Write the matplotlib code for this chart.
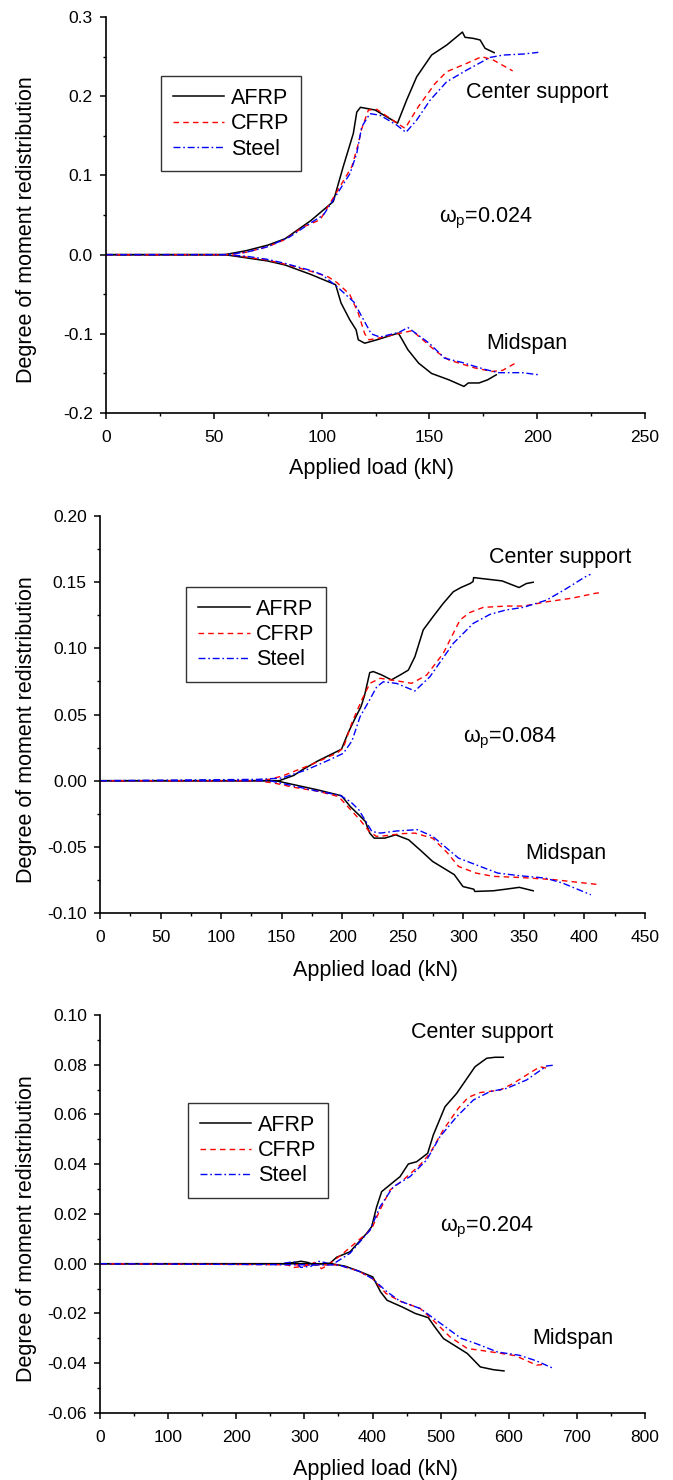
import matplotlib
matplotlib.use("Agg")
import matplotlib.pyplot as plt
from matplotlib.ticker import MultipleLocator, FormatStrFormatter

plt.rcParams['font.family'] = ['Liberation Sans', 'DejaVu Sans']
plt.rcParams['mathtext.fontset'] = 'custom'
plt.rcParams['mathtext.rm'] = 'Liberation Sans'
plt.rcParams['mathtext.it'] = 'Liberation Sans'

# ---------------- data ----------------
series_labels = ["AFRP", "CFRP", "Steel"]

# Panel 1 (omega_p = 0.024)
p1_afrp_c_x = [0, 55, 65, 75, 83, 95, 105.4, 110, 114.7, 116.3, 118, 124.8, 135.2, 139.4, 144.1, 151, 158, 165.3, 166.5, 170.4, 173.5, 175.8, 180]
p1_afrp_c_y = [0, 0, 0.005, 0.012, 0.02, 0.043, 0.067, 0.111, 0.153, 0.18, 0.186, 0.1826, 0.166, 0.195, 0.2246, 0.252, 0.2646, 0.281, 0.2744, 0.273, 0.271, 0.2605, 0.255]
p1_cfrp_c_x = [0, 57, 65, 75, 83, 91.5, 99.3, 103.9, 108.5, 114, 117, 118.6, 121.7, 125.6, 135, 138.7, 144.9, 152.6, 158, 167.3, 174.3, 179.6, 188.6]
p1_cfrp_c_y = [0, 0, 0.003, 0.01, 0.019, 0.035, 0.044, 0.065, 0.086, 0.111, 0.14, 0.159, 0.1826, 0.1834, 0.166, 0.1594, 0.187, 0.216, 0.231, 0.2415, 0.25, 0.2457, 0.232]
p1_steel_c_x = [0, 55, 65, 75, 85.3, 94.6, 100.8, 105.4, 113.2, 116.3, 118.6, 122.4, 127.1, 134.8, 139.1, 144.1, 150.3, 158, 167.3, 178.1, 184.3, 193.6, 200.5]
p1_steel_c_y = [0, 0, 0.003, 0.01, 0.0226, 0.0395, 0.05, 0.069, 0.1026, 0.128, 0.1615, 0.178, 0.176, 0.1636, 0.1544, 0.17, 0.195, 0.2183, 0.233, 0.249, 0.252, 0.2533, 0.2554]
p1_afrp_m_x = [0, 55, 65, 75, 83, 95, 106.5, 109, 113, 116, 117, 120, 125.6, 135.6, 140, 145, 151, 159, 166, 168, 173, 177, 181]
p1_afrp_m_y = [0, 0, -0.004, -0.008, -0.013, -0.025, -0.038, -0.061, -0.082, -0.095, -0.1075, -0.1118, -0.1075, -0.099, -0.12, -0.137, -0.15, -0.158, -0.1664, -0.162, -0.162, -0.158, -0.1517]
p1_cfrp_m_x = [0, 57, 65, 75, 83, 95, 103, 107, 113, 117, 120, 122, 127, 135, 142, 148, 153, 159, 165, 171, 179, 184, 189.8]
p1_cfrp_m_y = [0, 0, -0.003, -0.007, -0.012, -0.021, -0.028, -0.035, -0.05, -0.074, -0.1, -0.1075, -0.105, -0.1, -0.096, -0.11, -0.122, -0.133, -0.138, -0.143, -0.1475, -0.146, -0.137]
p1_steel_m_x = [0, 55, 65, 75, 83, 95, 100, 107, 115, 120, 123, 127, 136, 140, 150, 157, 165, 171, 176, 182, 186.8, 193, 200.8]
p1_steel_m_y = [0, 0, -0.002, -0.006, -0.011, -0.02, -0.025, -0.04, -0.06, -0.085, -0.1, -0.104, -0.098, -0.092, -0.112, -0.1307, -0.136, -0.141, -0.145, -0.149, -0.149, -0.149, -0.1517]

# Panel 2 (omega_p = 0.084)
p2_afrp_c_x = [0, 148, 160, 167, 180, 199.4, 204.8, 210, 215.5, 218.4, 222.7, 225.6, 232.4, 240.6, 248, 254.6, 260, 266.9, 275, 283.4, 291.7, 298, 305.5, 308, 308.5, 332, 346, 352, 357.7]
p2_afrp_c_y = [0, 0, 0.004, 0.0082, 0.015, 0.0238, 0.036, 0.046, 0.056, 0.0643, 0.0817, 0.0825, 0.08, 0.0762, 0.08, 0.0836, 0.0937, 0.114, 0.124, 0.134, 0.1428, 0.146, 0.149, 0.1505, 0.1535, 0.151, 0.146, 0.149, 0.15]
p2_cfrp_c_x = [0, 125, 140, 151, 174, 196, 201, 207.8, 216.1, 222.9, 231.2, 245, 257.3, 269.7, 283.4, 297.2, 305, 316.5, 335.8, 350, 368.8, 390, 408.7, 412]
p2_cfrp_c_y = [0, 0, 0.001, 0.0037, 0.012, 0.021, 0.025, 0.0434, 0.061, 0.0736, 0.0774, 0.0755, 0.0736, 0.0798, 0.0962, 0.1214, 0.127, 0.131, 0.132, 0.132, 0.1352, 0.138, 0.1416, 0.142]
p2_steel_c_x = [0, 130, 150, 170, 190, 200.9, 208, 214.7, 222, 228.5, 234, 245, 260, 272.4, 291.7, 308.2, 322, 335, 349.5, 368.8, 385.3, 400.5, 405]
p2_steel_c_y = [0, 0.001, 0.002, 0.008, 0.016, 0.0207, 0.03, 0.0483, 0.06, 0.071, 0.0748, 0.0735, 0.0678, 0.0786, 0.1038, 0.1189, 0.1257, 0.129, 0.131, 0.1365, 0.1453, 0.154, 0.156]
p2_afrp_m_x = [0, 145, 160, 180, 199.4, 206.6, 213.7, 219.1, 222.7, 226.3, 235.2, 244.2, 254.9, 265.7, 274.6, 292.5, 299.7, 308.6, 309.5, 324.7, 335, 346.2, 357.7]
p2_afrp_m_y = [0, 0, -0.003, -0.007, -0.0114, -0.0195, -0.0258, -0.0308, -0.0396, -0.0434, -0.0434, -0.0409, -0.0447, -0.0535, -0.061, -0.071, -0.08, -0.082, -0.0837, -0.0832, -0.082, -0.0806, -0.0832]
p2_cfrp_m_x = [0, 130, 145, 160, 180, 197, 205, 215, 222, 228, 231.6, 249.6, 260, 269, 274.6, 287, 296, 310.4, 324.7, 346.2, 374.9, 412.5]
p2_cfrp_m_y = [0, 0, -0.002, -0.005, -0.008, -0.012, -0.02, -0.03, -0.038, -0.042, -0.042, -0.04, -0.0396, -0.042, -0.0434, -0.0547, -0.0648, -0.0698, -0.0723, -0.0731, -0.0748, -0.0786]
p2_steel_m_x = [0, 140, 160, 180, 198, 207, 213.7, 224.5, 231.6, 245, 262, 274.6, 285, 296, 314, 328.3, 346.2, 367.7, 382, 405.3]
p2_steel_m_y = [0, 0, -0.004, -0.008, -0.011, -0.016, -0.022, -0.0384, -0.0396, -0.038, -0.037, -0.042, -0.05, -0.0585, -0.0648, -0.0698, -0.0718, -0.0736, -0.0774, -0.0862]

# Panel 3 (omega_p = 0.204)
p3_afrp_c_x = [0, 270, 285, 295, 305, 315, 325, 337.6, 347.4, 367, 391.4, 398.8, 406.1, 413.5, 428.2, 440.4, 452.6, 464.8, 481, 489.3, 506.4, 523.6, 550.5, 567.6, 580, 592]
p3_afrp_c_y = [0, 0, 0.0005, 0.001, 0.0005, -0.0005, 0, 0.0002, 0.0026, 0.0048, 0.0122, 0.0149, 0.0229, 0.029, 0.0323, 0.035, 0.0401, 0.041, 0.0444, 0.0518, 0.0631, 0.0685, 0.0792, 0.0826, 0.083, 0.083]
p3_cfrp_c_x = [0, 270, 285, 300, 315, 325, 335, 357, 391.4, 398.8, 411, 425.7, 445.2, 469.7, 484.4, 503.9, 526, 540.6, 557.8, 587.2, 606.7, 626.3, 645.9, 655.7]
p3_cfrp_c_y = [0, 0, -0.0015, -0.001, 0.0005, -0.002, -0.0005, 0.0042, 0.0122, 0.0141, 0.0216, 0.0296, 0.0337, 0.0397, 0.0444, 0.0538, 0.0625, 0.0669, 0.0688, 0.0698, 0.0725, 0.0759, 0.0792, 0.0786]
p3_steel_c_x = [0, 265, 285, 295, 310, 320, 330, 340, 367, 396.3, 411, 430.6, 455, 479.5, 499.1, 523.6, 548, 572.5, 597, 626.3, 655.7, 665]
p3_steel_c_y = [0, 0, 0.0008, -0.0015, -0.001, 0.001, 0.0005, -0.0005, 0.0042, 0.0135, 0.0229, 0.031, 0.035, 0.0417, 0.0511, 0.0591, 0.0658, 0.0692, 0.0705, 0.0739, 0.0795, 0.0798]
p3_afrp_m_x = [0, 340, 360, 380, 400.4, 411.8, 421.4, 443.7, 462.8, 481.9, 491.4, 504.2, 520, 539.2, 558.3, 577.3, 593]
p3_afrp_m_y = [0, 0, -0.001, -0.003, -0.0053, -0.0113, -0.0147, -0.0174, -0.02, -0.0217, -0.0254, -0.0301, -0.0328, -0.0361, -0.0415, -0.0426, -0.0431]
p3_cfrp_m_x = [0, 350, 380, 400, 420, 440, 470, 490, 513.7, 539.2, 558.3, 590, 610, 641, 653.8]
p3_cfrp_m_y = [0, -0.0005, -0.003, -0.006, -0.012, -0.015, -0.018, -0.023, -0.0294, -0.0341, -0.0348, -0.0361, -0.037, -0.0408, -0.0404]
p3_steel_m_x = [0, 350, 380, 400, 420, 440, 470, 490, 510, 530, 551.9, 583.7, 615.5, 640, 666.5]
p3_steel_m_y = [0, -0.0005, -0.003, -0.006, -0.011, -0.015, -0.018, -0.022, -0.026, -0.03, -0.0321, -0.0355, -0.0368, -0.039, -0.0422]

omega_labels = ["0.024", "0.084", "0.204"]

# ---------------- figure ----------------
fig = plt.figure(figsize=(6.73, 14.80), dpi=100)

styles = [dict(color='black', lw=1.1, ls='-'),
          dict(color='red', lw=1.0, ls=(0, (4, 3))),
          dict(color='blue', lw=1.0, ls=(0, (5, 2, 1.2, 2)))]

panels = [
    dict(rect=[0.1575, 0.7209, 0.801, 0.2676], xlim=(0, 250), ylim=(-0.2, 0.3),
         xmaj=50, xmin=25, ymaj=0.1, ymin=0.05, fmt='%.1f',
         center=[(p1_afrp_c_x, p1_afrp_c_y), (p1_cfrp_c_x, p1_cfrp_c_y), (p1_steel_c_x, p1_steel_c_y)],
         mid=[(p1_afrp_m_x, p1_afrp_m_y), (p1_cfrp_m_x, p1_cfrp_m_y), (p1_steel_m_x, p1_steel_m_y)],
         cs=(200, 0.205), ms=(195, -0.112), om=(176, 0.046), leg=(0.2392, 0.9486),
         xl=(0.493, -0.139)),
    dict(rect=[0.1486, 0.3831, 0.8098, 0.2682], xlim=(0, 450), ylim=(-0.10, 0.20),
         xmaj=50, xmin=25, ymaj=0.05, ymin=0.025, fmt='%.2f',
         center=[(p2_afrp_c_x, p2_afrp_c_y), (p2_cfrp_c_x, p2_cfrp_c_y), (p2_steel_c_x, p2_steel_c_y)],
         mid=[(p2_afrp_m_x, p2_afrp_m_y), (p2_cfrp_m_x, p2_cfrp_m_y), (p2_steel_m_x, p2_steel_m_y)],
         cs=(380, 0.169), ms=(385, -0.055), om=(338, 0.032), leg=(0.2764, 0.6034),
         xl=(0.505, -0.1436)),
    dict(rect=[0.1486, 0.0453, 0.8098, 0.2689], xlim=(0, 800), ylim=(-0.06, 0.10),
         xmaj=100, xmin=50, ymaj=0.02, ymin=0.01, fmt='%.2f',
         center=[(p3_afrp_c_x, p3_afrp_c_y), (p3_cfrp_c_x, p3_cfrp_c_y), (p3_steel_c_x, p3_steel_c_y)],
         mid=[(p3_afrp_m_x, p3_afrp_m_y), (p3_cfrp_m_x, p3_cfrp_m_y), (p3_steel_m_x, p3_steel_m_y)],
         cs=(561, 0.0928), ms=(694, -0.0302), om=(567, 0.0144), leg=(0.2793, 0.2547),
         xl=(0.505, -0.143)),
]

for i, p in enumerate(panels):
    ax = fig.add_axes(p['rect'])
    handles = []
    for k in range(3):
        st = styles[k]
        cx, cy = p['center'][k]
        h, = ax.plot(cx, cy, color=st['color'], lw=st['lw'], linestyle=st['ls'], label=series_labels[k])
        handles.append(h)
    for k in range(3):
        st = styles[k]
        mx, my = p['mid'][k]
        ax.plot(mx, my, color=st['color'], lw=st['lw'], linestyle=st['ls'])
    ax.set_xlim(*p['xlim'])
    ax.set_ylim(*p['ylim'])
    ax.xaxis.set_major_locator(MultipleLocator(p['xmaj']))
    ax.xaxis.set_minor_locator(MultipleLocator(p['xmin']))
    ax.yaxis.set_major_locator(MultipleLocator(p['ymaj']))
    ax.yaxis.set_minor_locator(MultipleLocator(p['ymin']))
    ax.yaxis.set_major_formatter(FormatStrFormatter(p['fmt']))
    ax.xaxis.set_major_formatter(FormatStrFormatter('%d'))
    for s in ['top', 'right']:
        ax.spines[s].set_visible(False)
    for s in ['left', 'bottom']:
        ax.spines[s].set_linewidth(1.2)
    ax.tick_params(which='major', direction='out', length=4.5, width=1.1, labelsize=12.5)
    ax.tick_params(which='minor', direction='out', length=2.5, width=1.0)
    ax.tick_params(axis='x', which='major', pad=8)
    ax.tick_params(axis='y', which='major', pad=5)
    ax.set_xlabel('Applied load (kN)', fontsize=15.5)
    ax.xaxis.set_label_coords(*p['xl'])
    ax.xaxis.label.set_verticalalignment('center')
    ax.set_ylabel('Degree of moment redistribution', fontsize=15.5)
    ax.yaxis.set_label_coords(-0.147 if i == 0 else -0.135, 0.463)
    ax.yaxis.label.set_verticalalignment('center')

    ax.text(p['cs'][0], p['cs'][1], 'Center support', fontsize=15.5, ha='center', va='center')
    ax.text(p['ms'][0], p['ms'][1], 'Midspan', fontsize=15.5, ha='center', va='center')
    ax.text(p['om'][0], p['om'][1], r'$\omega_{\mathrm{p}}$=' + omega_labels[i], fontsize=15.5,
            ha='center', va='center')

    leg = ax.legend(handles=handles, loc='upper left', bbox_to_anchor=p['leg'],
                    bbox_transform=fig.transFigure, borderaxespad=0, fontsize=15.5,
                    frameon=True, fancybox=False, handlelength=2.4, handletextpad=0.3,
                    labelspacing=0.2, borderpad=0.55)
    leg.get_frame().set_edgecolor('black')
    leg.get_frame().set_linewidth(1.0)

fig.savefig('out.png', dpi=100)
